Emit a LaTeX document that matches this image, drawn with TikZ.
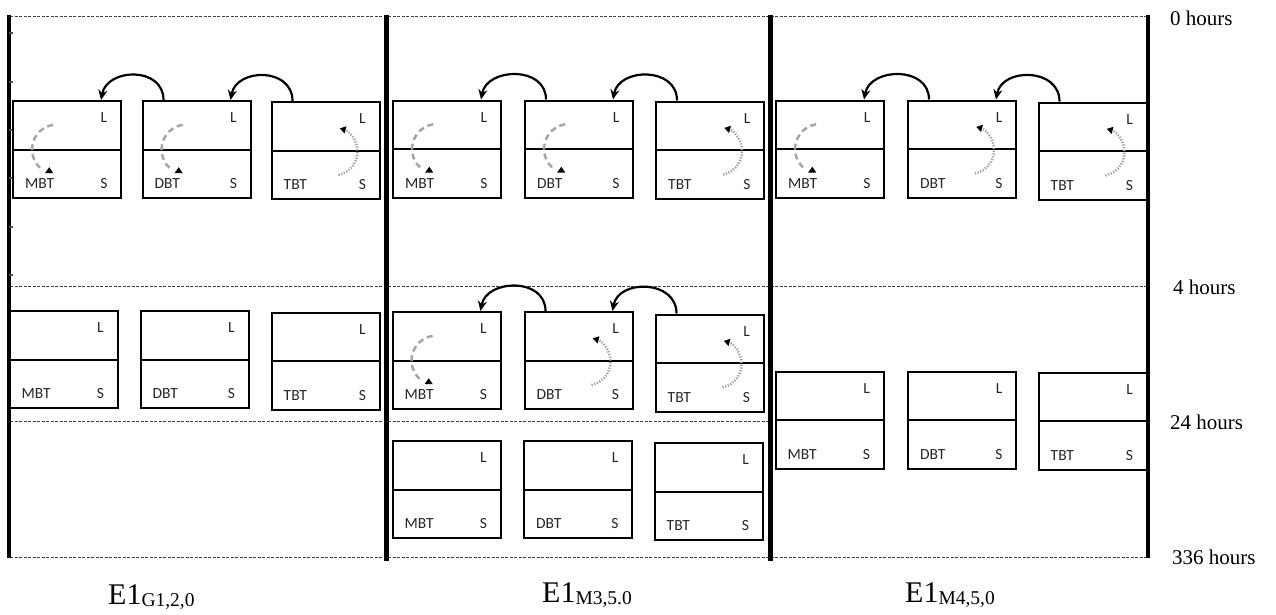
\documentclass[tikz,border=0pt]{standalone}
\usepackage{fontspec}
\setmainfont{Liberation Serif}
\newfontfamily\boxfont{Carlito}
\usetikzlibrary{arrows.meta,calc}

\tikzset{
  bx/.style={draw, line width=2pt, minimum width=108pt, minimum height=97pt, inner sep=0pt},
  divline/.style={line width=2pt},
  boxtxt/.style={font=\boxfont\fontsize{15.5}{15.5}\selectfont, inner sep=0pt, text=black!85},
  dasharcst/.style={gray!70, line width=2.5pt, dash pattern=on 6pt off 4pt},
  dotarcst/.style={gray!75, line width=2.5pt, dash pattern=on 1.2pt off 1.6pt, -{Triangle[length=6pt,width=7pt,color=black]}},
  carr/.style={line width=2.2pt, -{Stealth[length=10pt,width=9pt]}},
  hdash/.style={line width=1pt, black!75, dash pattern=on 3pt off 1.5pt},
  sepline/.style={line width=5pt},
  edgeline/.style={line width=3.2pt},
  hourlbl/.style={font=\fontsize{21}{21}\selectfont, inner sep=0pt, anchor=base west},
  explbl/.style={font=\fontsize{30}{30}\selectfont, inner sep=0pt, anchor=base west},
}

\newcommand\mkbox[4]{%
  \node[bx] (#1) at (#2,#3) {};
  \draw[divline] (#1.west) -- (#1.east);
  \node[boxtxt] (#1-l) at ($(#1.center)+(37,-31.5)$) {L};
  \node[boxtxt] (#1-s) at ($(#1.center)+(37,34.5)$) {S};
  \node[boxtxt,anchor=west] (#1-n) at ($(#1.center)+(-42,34.5)$) {#4};
}
\newcommand\dasharc[1]{%
  \draw[dasharcst] ($(#1.center)+(-13.9,-24.7)$) arc[start angle=99,end angle=227,radius=25pt];
  \fill ($(#1.center)+(-17.7,17.7)$) -- ($(#1.center)+(-22,23.7)$) -- ($(#1.center)+(-13.7,23.7)$) -- cycle;
}
\newcommand\dotarc[1]{%
  \draw[dotarcst] ($(#1.center)+(13,24.5)$) arc[start angle=-78,end angle=75,radius=24pt];
}
\newcommand\carrow[2]{%
  \draw[carr] ($(#1.north west)+(22,0)$) .. controls ($(#1.north west)+(22,-34)$) and ($(#2.north east)+(-15,-32)$) .. ($(#2.north east)+(-21,0)$);
}

\begin{document}
\begin{tikzpicture}[x=1pt,y=-1pt]
\fill[white] (0,0) rectangle (1276,614);
\useasboundingbox (0,0) rectangle (1276,614);

% time lines
\coordinate (t0l) at (10,16);   \coordinate (t0r) at (1148,16);
\coordinate (t4l) at (10,286);  \coordinate (t4r) at (1148,286);
\coordinate (t24l) at (10,421); \coordinate (t24r) at (770,421);
\coordinate (t336l) at (10,557);\coordinate (t336r) at (1148,557);
\draw[hdash] (t0l) -- (t0r);
\draw[hdash] (t4l) -- (t4r);
\draw[hdash] (t24l) -- (t24r);
\draw[hdash] (t336l) -- (t336r);

% vertical frame lines
\coordinate (vl0) at (9,15);    \coordinate (vl1) at (9,558);
\coordinate (s1a) at (386,15);  \coordinate (s1b) at (386,561);
\coordinate (s2a) at (770,15);  \coordinate (s2b) at (770,561);
\coordinate (vr0) at (1148,15); \coordinate (vr1) at (1148,558);
\draw[edgeline] (vl0) -- (vl1);
\draw[sepline] (s1a) -- (s1b);
\draw[sepline] (s2a) -- (s2b);
\draw[edgeline] (vr0) -- (vr1);
\foreach \ty in {33,82,130,178,227,275}{
  \draw[line width=1.2pt, black!70] (9,\ty) -- (13,\ty);
}

% column 1
\mkbox{c1a1}{67}{149.5}{MBT}
\mkbox{c1a2}{196.5}{149.5}{DBT}
\mkbox{c1a3}{325.5}{150.5}{TBT}
\dasharc{c1a1}\dasharc{c1a2}\dotarc{c1a3}
\carrow{c1a2}{c1a1}\carrow{c1a3}{c1a2}

\mkbox{c1b1}{63.5}{359.5}{MBT}
\mkbox{c1b2}{194.5}{359.5}{DBT}
\mkbox{c1b3}{325.5}{361}{TBT}

% column 2
\mkbox{c2a1}{447}{149}{MBT}
\mkbox{c2a2}{579}{149}{DBT}
\mkbox{c2a3}{710}{150}{TBT}
\dasharc{c2a1}\dasharc{c2a2}\dotarc{c2a3}
\carrow{c2a2}{c2a1}\carrow{c2a3}{c2a2}

\mkbox{c2b1}{446.5}{360.5}{MBT}
\mkbox{c2b2}{578.5}{360.5}{DBT}
\mkbox{c2b3}{709.5}{363}{TBT}
\dasharc{c2b1}\dotarc{c2b2}\dotarc{c2b3}
\carrow{c2b2}{c2b1}\carrow{c2b3}{c2b2}

\mkbox{c2c1}{446.5}{489.5}{MBT}
\mkbox{c2c2}{578}{489.5}{DBT}
\mkbox{c2c3}{708.5}{491.5}{TBT}

% column 3
\mkbox{c3a1}{830}{149}{MBT}
\mkbox{c3a2}{962}{149}{DBT}
\mkbox{c3a3}{1092.5}{151}{TBT}
\dasharc{c3a1}\dotarc{c3a2}\dotarc{c3a3}
\carrow{c3a2}{c3a1}\carrow{c3a3}{c3a2}

\mkbox{c3b1}{829.5}{420}{MBT}
\mkbox{c3b2}{962}{420}{DBT}
\mkbox{c3b3}{1092.5}{421}{TBT}

% hour labels
\node[hourlbl] (h0) at (1170,25) {0 hours};
\node[hourlbl] (h4) at (1173,294) {4 hours};
\node[hourlbl] (h24) at (1170,429) {24 hours};
\node[hourlbl] (h336) at (1172,564) {336 hours};

% experiment labels
\node[explbl] (e1) at (108,604) {E1\raisebox{-2pt}{\fontsize{19.5}{19.5}\selectfont G1,2,0}};
\node[explbl] (e2) at (542,602) {E1\raisebox{-2pt}{\fontsize{19.5}{19.5}\selectfont M3,5.0}};
\node[explbl] (e3) at (905,602) {E1\raisebox{-2pt}{\fontsize{19.5}{19.5}\selectfont M4,5,0}};
\end{tikzpicture}
\end{document}
